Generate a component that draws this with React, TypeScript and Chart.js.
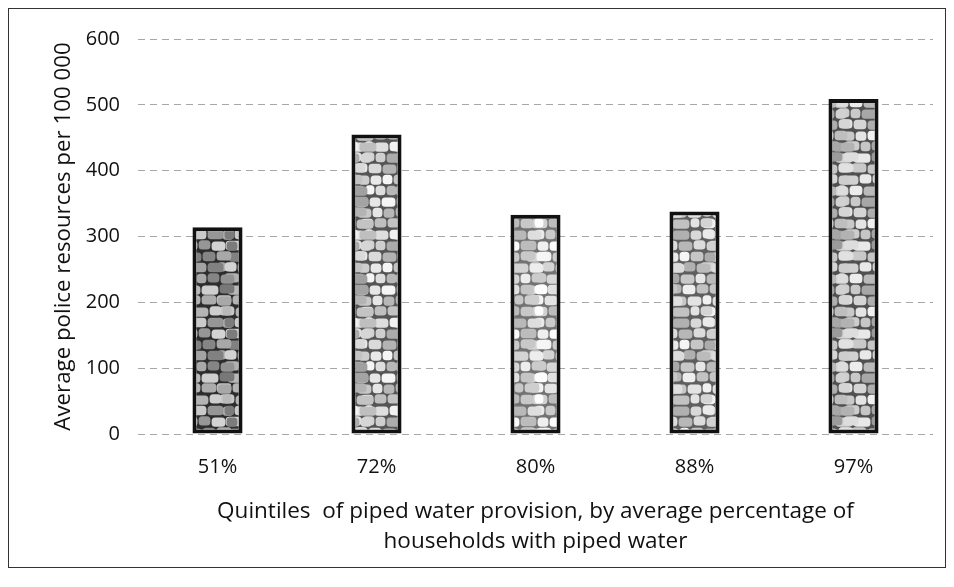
import React, { useEffect, useRef } from "react";
import { Chart, registerables } from "chart.js";

Chart.register(...registerables);

const categories = ["51%", "72%", "80%", "88%", "97%"];
const policeResources = [314, 455, 333, 338, 509];
const yTicks = [0, 100, 200, 300, 400, 500, 600];
const xTitle = [
  "Quintiles  of piped water provision, by average percentage of",
  "households with piped water",
];
const yTitle = "Average police resources per 100 000";

// per-bar shading of the stone texture: [gap colour, stone colour range low, high]
const barShades: [number, number, number][] = [
  [45, 120, 215],
  [85, 160, 245],
  [115, 185, 252],
  [95, 165, 245],
  [80, 155, 240],
];

const FONT = "'Open Sans', 'Noto Sans', sans-serif";

function makeStonePattern(ctx: CanvasRenderingContext2D, shade: [number, number, number], seed: number) {
  const c = document.createElement("canvas");
  const W = 44;
  const H = 88;
  c.width = W;
  c.height = H;
  const g = c.getContext("2d")!;
  const [gap, lo, hi] = shade;
  g.fillStyle = `rgb(${gap},${gap},${gap})`;
  g.fillRect(0, 0, W, H);
  const rowH = 11;
  let k = seed * 13 + 7;
  for (let r = 0; r < H / rowH; r++) {
    let x = -((r * 11 + seed * 5) % 14);
    while (x < W) {
      k = (k * 29 + 17) % 97;
      const w = 10 + (k % 9);
      const t = ((k * 7) % 23) / 22;
      const v = Math.round(lo + (hi - lo) * t);
      g.fillStyle = `rgb(${v},${v},${v})`;
      const cy = r * rowH + rowH / 2 + ((k % 3) - 1) * 0.6;
      const cx = x + w / 2;
      for (const dx of [-W, 0, W]) {
        g.beginPath();
        g.roundRect(cx + dx - w / 2 + 0.6, cy - rowH / 2 + 0.8, w - 1.2, rowH - 1.6, 3.5);
        g.fill();
      }
      x += w;
    }
  }
  return ctx.createPattern(c, "repeat")!;
}

export default function App() {
  const ref = useRef<HTMLCanvasElement | null>(null);
  useEffect(() => {
    const canvas = ref.current!;
    const ctx = canvas.getContext("2d")!;
    const patterns = barShades.map((s, i) => makeStonePattern(ctx, s, i + 1));
    const chart = new Chart(canvas, {
      type: "bar",
      data: {
        labels: categories,
        datasets: [
          {
            data: policeResources,
            backgroundColor: patterns,
            borderColor: "#111",
            borderWidth: 4,
            borderSkipped: false,
            categoryPercentage: 1,
            barPercentage: 0.315,
          },
        ],
      },
      options: {
        animation: false,
        responsive: false,
        maintainAspectRatio: false,
        layout: { padding: { top: 28, right: 12, left: 0, bottom: 0 } },
        plugins: { legend: { display: false }, tooltip: { enabled: false } },
        scales: {
          x: {
            grid: { display: false, drawTicks: false },
            border: { display: false },
            ticks: { color: "#111", font: { family: FONT, size: 20 }, padding: 21 },
            title: {
              display: true,
              text: xTitle,
              color: "#111",
              font: { family: FONT, size: 22.5, lineHeight: 1.36 },
              padding: { top: 0, bottom: 10 },
            },
            afterFit: (s: any) => {
              s.height = 133;
            },
          },
          y: {
            min: 0,
            max: 600,
            afterBuildTicks: (s: any) => {
              s.ticks = yTicks.map((v) => ({ value: v }));
            },
            grid: {
              color: "rgba(80,80,80,0.5)",
              lineWidth: 1,
              drawTicks: false,
            },
            border: { display: false, dash: [7, 5] },
            ticks: { color: "#111", font: { family: FONT, size: 20 }, padding: 18 },
            title: {
              display: true,
              text: yTitle,
              color: "#111",
              font: { family: FONT, size: 22.3 },
              padding: { top: 41, bottom: 0 },
            },
            afterFit: (s: any) => {
              s.width = 129;
            },
          },
        },
      },
    });
    return () => chart.destroy();
  }, []);
  return (
    <div
      style={{
        width: 936,
        height: 558,
        border: "1px solid #333",
        background: "#fff",
      }}
    >
      <canvas ref={ref} width={936} height={558} style={{ display: "block" }} />
    </div>
  );
}
